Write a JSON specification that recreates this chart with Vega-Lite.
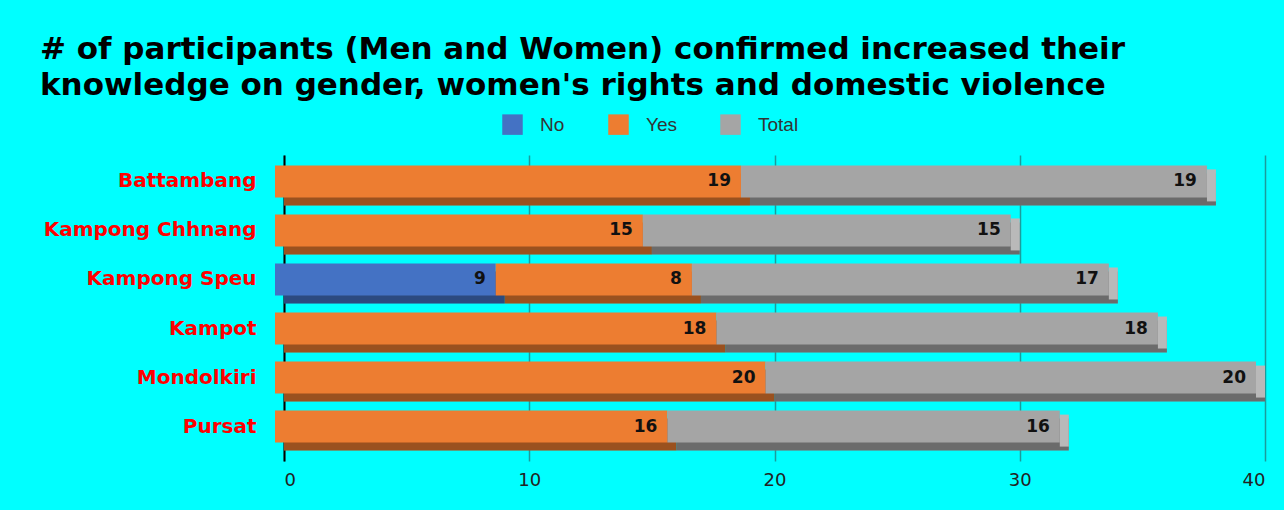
{
  "$schema": "https://vega.github.io/schema/vega-lite/v6.json",
  "autosize": "none",
  "width": 981,
  "height": 306,
  "padding": {"left": 284, "top": 155, "right": 19, "bottom": 49},
  "background": "#00FFFF",
  "config": {"view": {"stroke": null}},
  "title": {
    "text": ["# of participants (Men and Women) confirmed increased their", "knowledge on gender, women's rights and domestic violence"],
    "font": "DejaVu Sans",
    "fontSize": 31,
    "fontWeight": "bold",
    "color": "#000000",
    "anchor": "start",
    "frame": "group",
    "dx": -244,
    "offset": 12,
    "lineHeight": 36
  },
  "data": {
    "values": [
      {"region": "Battambang", "series": "No", "ord": 1, "value": 0},
      {"region": "Battambang", "series": "Yes", "ord": 2, "value": 19},
      {"region": "Battambang", "series": "Total", "ord": 3, "value": 19},
      {"region": "Kampong Chhnang", "series": "No", "ord": 1, "value": 0},
      {"region": "Kampong Chhnang", "series": "Yes", "ord": 2, "value": 15},
      {"region": "Kampong Chhnang", "series": "Total", "ord": 3, "value": 15},
      {"region": "Kampong Speu", "series": "No", "ord": 1, "value": 9},
      {"region": "Kampong Speu", "series": "Yes", "ord": 2, "value": 8},
      {"region": "Kampong Speu", "series": "Total", "ord": 3, "value": 17},
      {"region": "Kampot", "series": "No", "ord": 1, "value": 0},
      {"region": "Kampot", "series": "Yes", "ord": 2, "value": 18},
      {"region": "Kampot", "series": "Total", "ord": 3, "value": 18},
      {"region": "Mondolkiri", "series": "No", "ord": 1, "value": 0},
      {"region": "Mondolkiri", "series": "Yes", "ord": 2, "value": 20},
      {"region": "Mondolkiri", "series": "Total", "ord": 3, "value": 20},
      {"region": "Pursat", "series": "No", "ord": 1, "value": 0},
      {"region": "Pursat", "series": "Yes", "ord": 2, "value": 16},
      {"region": "Pursat", "series": "Total", "ord": 3, "value": 16}
    ]
  },
  "transform": [
    {"stack": "value", "groupby": ["region"], "sort": [{"field": "ord", "order": "ascending"}], "as": ["x0", "x1"]}
  ],
  "encoding": {
    "y": {
      "field": "region",
      "type": "nominal",
      "sort": ["Battambang", "Kampong Chhnang", "Kampong Speu", "Kampot", "Mondolkiri", "Pursat"],
      "scale": {"paddingInner": 0.2, "paddingOuter": 0.22},
      "axis": {
        "title": null,
        "ticks": false,
        "domain": true,
        "domainColor": "#000000",
        "domainWidth": 2,
        "labelColor": "#FF0000",
        "labelFont": "DejaVu Sans",
        "labelFontWeight": "bold",
        "labelFontSize": 20,
        "labelPadding": 28,
        "labelOffset": -4,
        "labelLimit": 300
      }
    }
  },
  "layer": [
    {
      "transform": [{"filter": "datum.value > 0"}],
      "mark": {"type": "bar", "height": 32, "yOffset": 4},
      "encoding": {
        "x": {
          "field": "x0",
          "type": "quantitative",
          "scale": {"domain": [0, 40]},
          "axis": {
            "title": null,
            "values": [0, 10, 20, 30, 40],
            "domain": false,
            "ticks": false,
            "grid": true,
            "gridColor": "#1A9C9C",
            "gridWidth": 1.5,
            "labelColor": "#222222",
            "labelFont": "DejaVu Sans",
            "labelFontSize": 18,
            "labelPadding": 10
          }
        },
        "x2": {"field": "x1"},
        "color": {
          "field": "series",
          "type": "nominal",
          "sort": ["No", "Yes", "Total"],
          "scale": {"domain": ["No", "Yes", "Total"], "range": ["#4472C4", "#ED7D31", "#A5A5A5"]},
          "legend": {
            "title": null,
            "orient": "none",
            "legendX": 218,
            "legendY": -41,
            "direction": "horizontal",
            "symbolType": "square",
            "symbolSize": 420,
            "symbolStrokeWidth": 0,
            "labelFont": "Liberation Sans",
            "labelFontSize": 19,
            "labelColor": "#333333",
            "columnPadding": 43,
            "labelOffset": 17
          }
        }
      }
    },
    {
      "transform": [{"filter": "datum.value > 0"}],
      "mark": {"type": "bar", "height": 32, "yOffset": 4, "color": "#000000", "opacity": 0.35},
      "encoding": {
        "x": {"field": "x0", "type": "quantitative"},
        "x2": {"field": "x1"}
      }
    },
    {
      "transform": [{"filter": "datum.series == 'Total'"}],
      "mark": {"type": "bar", "height": 32, "yOffset": 0, "xOffset": -9, "x2Offset": 0, "color": "#B9B9B9"},
      "encoding": {
        "x": {"field": "x1", "type": "quantitative"},
        "x2": {"field": "x1"}
      }
    },
    {
      "transform": [{"filter": "datum.value > 0"}],
      "mark": {"type": "bar", "height": 32, "yOffset": -4, "xOffset": -9, "x2Offset": -9},
      "encoding": {
        "x": {"field": "x0", "type": "quantitative"},
        "x2": {"field": "x1"},
        "color": {"field": "series", "type": "nominal"}
      }
    },
    {
      "transform": [{"filter": "datum.value > 0"}],
      "mark": {"type": "text", "align": "right", "baseline": "middle", "xOffset": -9, "yOffset": -4, "dx": -10, "font": "DejaVu Sans", "fontWeight": "bold", "fontSize": 17, "color": "#111111"},
      "encoding": {
        "x": {"field": "x1", "type": "quantitative"},
        "text": {"field": "value", "type": "quantitative"}
      }
    }
  ]
}
